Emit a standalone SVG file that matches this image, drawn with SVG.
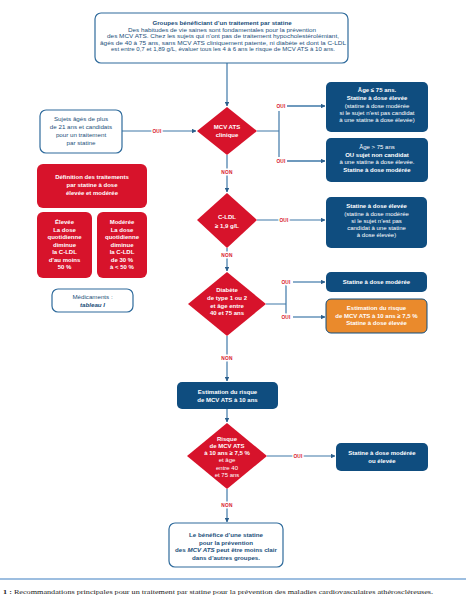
<svg xmlns="http://www.w3.org/2000/svg" width="466" height="600" viewBox="0 0 466 600">
<style>
text{font-family:"Liberation Sans","DejaVu Sans",sans-serif;text-anchor:middle}
.wb{fill:#fff;stroke:#2f6b9c;stroke-width:1.2}
.db{fill:#0f4d7f}
.rd{fill:#d7132b}
.or{fill:#ea8a2c;stroke:#0f4d7f;stroke-width:1}
.t{font-size:6.2px;fill:#1b4f7a}
.tw{font-size:6px;fill:#fff}
.b{font-weight:bold}
.c{fill:none;stroke:#3f78a8;stroke-width:1.2}
.lab{font-size:4.8px;font-weight:bold;fill:#d7132b;letter-spacing:0.2px;stroke:#fff;stroke-width:3px;paint-order:stroke}
</style>
<defs>
<marker id="ar" viewBox="0 0 10 10" refX="9" refY="5" markerWidth="4.5" markerHeight="4.5" orient="auto" markerUnits="userSpaceOnUse"><path d="M0,0L10,5L0,10z" fill="#2c5f8c"/></marker>
</defs>

<g id="connectors">
<path class="c" d="M227,63V106" marker-end="url(#ar)"/>
<path class="c" d="M122,131H196" marker-end="url(#ar)"/>
<path class="c" d="M257,131H279M279,111V157M287,106H325M287,161H325" />
<path class="c" d="M287,106H325" marker-end="url(#ar)"/>
<path class="c" d="M287,161H325" marker-end="url(#ar)"/>
<path class="c" d="M227,155V192" marker-end="url(#ar)"/>
<path class="c" d="M257,220H325" marker-end="url(#ar)"/>
<path class="c" d="M227,248V271" marker-end="url(#ar)"/>
<path class="c" d="M266,304H286M286,285V314"/>
<path class="c" d="M293,282H325" marker-end="url(#ar)"/>
<path class="c" d="M293,317H325" marker-end="url(#ar)"/>
<path class="c" d="M227,336V381" marker-end="url(#ar)"/>
<path class="c" d="M227,409V422" marker-end="url(#ar)"/>
<path class="c" d="M267,456H335" marker-end="url(#ar)"/>
<path class="c" d="M227,489V522" marker-end="url(#ar)"/>
<text class="lab" x="157" y="133">OUI</text>
<text class="lab" x="281" y="108">OUI</text>
<text class="lab" x="281" y="163">OUI</text>
<text class="lab" x="227" y="174">NON</text>
<text class="lab" x="284" y="222">OUI</text>
<text class="lab" x="227" y="257">NON</text>
<text class="lab" x="286" y="284">OUI</text>
<text class="lab" x="286" y="319">OUI</text>
<text class="lab" x="227" y="360">NON</text>
<text class="lab" x="298" y="458">OUI</text>
<text class="lab" x="227" y="507">NON</text>
</g>

<g id="top">
<rect class="wb" x="95" y="13" width="253" height="50" rx="6"/>
<text class="t b" x="222" y="25">Groupes bénéficiant d’un traitement par statine</text>
<text class="t" x="222" y="31.5" textLength="188" lengthAdjust="spacingAndGlyphs">Des habitudes de vie saines sont fondamentales pour la prévention</text>
<text class="t" x="223" y="38" textLength="232" lengthAdjust="spacingAndGlyphs">des MCV ATS. Chez les sujets qui n’ont pas de traitement hypocholestérolémiant,</text>
<text class="t" x="223" y="44.5" textLength="246" lengthAdjust="spacingAndGlyphs">âgés de 40 à 75 ans, sans MCV ATS cliniquement patente, ni diabète et dont la C-LDL</text>
<text class="t" x="223" y="51" textLength="224" lengthAdjust="spacingAndGlyphs">est entre 0,7 et 1,89 g/L, évaluer tous les 4 à 6 ans le risque de MCV ATS à 10 ans.</text>
</g>

<g id="sujets">
<rect class="wb" x="40" y="110" width="82" height="43" rx="6"/>
<text class="t" x="81" y="121">Sujets âgés de plus</text>
<text class="t" x="81" y="129">de 21 ans et candidats</text>
<text class="t" x="81" y="137">pour un traitement</text>
<text class="t" x="81" y="145">par statine</text>
</g>

<g id="mcv">
<path class="rd" d="M227,107L257,131L227,155L197,131z"/>
<text class="tw b" x="227" y="129">MCV ATS</text>
<text class="tw b" x="227" y="137">clinique</text>
</g>

<g id="age75">
<rect class="db" x="326" y="82" width="102" height="50" rx="5"/>
<text class="tw b" x="377" y="92">Âge ≤ 75 ans.</text>
<text class="tw b" x="377" y="100">Statine à dose élevée</text>
<text class="tw" x="377" y="108">(statine à dose modérée</text>
<text class="tw" x="377" y="115">si le sujet n’est pas candidat</text>
<text class="tw" x="377" y="122">à une statine à dose élevée)</text>
</g>

<g id="age75plus">
<rect class="db" x="326" y="138" width="102" height="44" rx="5"/>
<text class="tw" x="377" y="149">Âge &gt; 75 ans</text>
<text class="tw b" x="377" y="157">OU sujet non candidat</text>
<text class="tw" x="377" y="164">à une statine à dose élevée.</text>
<text class="tw b" x="377" y="172">Statine à dose modérée</text>
</g>

<g id="definition">
<rect class="rd" x="37" y="164" width="110" height="44" rx="6"/>
<text class="tw b" x="92" y="179">Définition des traitements</text>
<text class="tw b" x="92" y="187">par statine à dose</text>
<text class="tw b" x="92" y="195">élevée et modérée</text>
</g>

<g id="elevee">
<rect class="rd" x="37" y="212" width="55" height="66" rx="6"/>
<text class="tw b" x="64.5" y="224">Élevée</text>
<text class="tw b" x="64.5" y="231.5">La dose</text>
<text class="tw b" x="64.5" y="239">quotidienne</text>
<text class="tw b" x="64.5" y="246.5">diminue</text>
<text class="tw b" x="64.5" y="254">la C-LDL</text>
<text class="tw b" x="64.5" y="261.5">d’au moins</text>
<text class="tw b" x="64.5" y="269">50 %</text>
</g>

<g id="moderee">
<rect class="rd" x="97" y="212" width="50" height="66" rx="6"/>
<text class="tw b" x="122" y="224">Modérée</text>
<text class="tw b" x="122" y="231.5">La dose</text>
<text class="tw b" x="122" y="239">quotidienne</text>
<text class="tw b" x="122" y="246.5">diminue</text>
<text class="tw b" x="122" y="254">la C-LDL</text>
<text class="tw b" x="122" y="261.5">de 30 %</text>
<text class="tw b" x="122" y="269">à &lt; 50 %</text>
</g>

<g id="medicaments">
<rect class="wb" x="52" y="289" width="81" height="23" rx="6"/>
<text class="t" x="92.5" y="299">Médicaments :</text>
<text class="t b" x="92.5" y="307" font-style="italic">tableau I</text>
</g>

<g id="cldl">
<path class="rd" d="M227,193L257,220L227,248L197,220z"/>
<text class="tw b" x="227" y="219">C-LDL</text>
<text class="tw b" x="227" y="228">≥ 1,9 g/L</text>
</g>

<g id="cldl-res">
<rect class="db" x="326" y="197" width="101" height="51" rx="5"/>
<text class="tw b" x="376.5" y="208">Statine à dose élevée</text>
<text class="tw" x="376.5" y="216">(statine à dose modérée</text>
<text class="tw" x="376.5" y="223">si le sujet n’est pas</text>
<text class="tw" x="376.5" y="230">candidat à une statine</text>
<text class="tw" x="376.5" y="237">à dose élevée)</text>
</g>

<g id="diabete">
<path class="rd" d="M227,272L266,304L227,336L188,304z"/>
<text class="tw b" x="227" y="292">Diabète</text>
<text class="tw b" x="227" y="300">de type 1 ou 2</text>
<text class="tw b" x="227" y="308">et âge entre</text>
<text class="tw b" x="227" y="315">40 et 75 ans</text>
</g>

<g id="diab-mod">
<rect class="db" x="326" y="272" width="101" height="20" rx="5"/>
<text class="tw b" x="376.5" y="284">Statine à dose modérée</text>
</g>

<g id="diab-est">
<rect class="or" x="326" y="299" width="101" height="34" rx="5"/>
<text class="tw b" x="376.5" y="310">Estimation du risque</text>
<text class="tw b" x="376.5" y="318">de MCV ATS à 10 ans ≥ 7,5 %</text>
<text class="tw b" x="376.5" y="325">Statine à dose élevée</text>
</g>

<g id="estimation">
<rect class="db" x="177" y="382" width="101" height="27" rx="5"/>
<text class="tw b" x="227.5" y="394">Estimation du risque</text>
<text class="tw b" x="227.5" y="402">de MCV ATS à 10 ans</text>
</g>

<g id="risque">
<path class="rd" d="M227,423L267,456L227,489L187,456z"/>
<text class="tw b" x="227" y="441">Risque</text>
<text class="tw b" x="227" y="447.5">de MCV ATS</text>
<text class="tw b" x="227" y="454.5">à 10 ans ≥ 7,5 %</text>
<text class="tw" x="227" y="462">et âge</text>
<text class="tw" x="227" y="469.5">entre 40</text>
<text class="tw" x="227" y="477">et 75 ans</text>
</g>

<g id="risque-res">
<rect class="db" x="336" y="443" width="92" height="28" rx="5"/>
<text class="tw b" x="382" y="455">Statine à dose modérée</text>
<text class="tw b" x="382" y="463">ou élevée</text>
</g>

<g id="benefice">
<rect class="wb" x="169" y="523" width="114" height="44" rx="6"/>
<text class="t b" x="226" y="537">Le bénéfice d’une statine</text>
<text class="t b" x="226" y="544.5">pour la prévention</text>
<text class="t b" x="226" y="552">des <tspan font-style="italic">MCV ATS</tspan> peut être moins clair</text>
<text class="t b" x="226" y="559.5">dans d’autres groupes.</text>
</g>

<g id="caption">
<line x1="0" y1="579" x2="466" y2="579" stroke="#3d7fc1" stroke-width="1.2"/>
<text x="3" y="594" style="text-anchor:start;font-family:'Liberation Serif',serif;font-size:7px;fill:#222" textLength="430" lengthAdjust="spacingAndGlyphs"><tspan font-weight="bold">1 :</tspan> Recommandations principales pour un traitement par statine pour la prévention des maladies cardiovasculaires athéroscléreuses.</text>
</g>
</svg>
